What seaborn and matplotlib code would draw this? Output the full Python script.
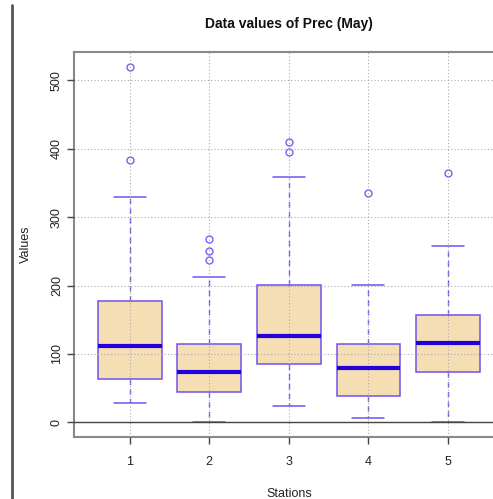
import matplotlib
matplotlib.use("Agg")
import matplotlib.pyplot as plt
from matplotlib.lines import Line2D
import seaborn as sns
import pandas as pd

# ---- data (box statistics per station) ----
stations = ["1", "2", "3", "4", "5"]
lower_whisker = [29, 0, 24, 7, 0]
q1 = [63, 44, 85, 38.5, 73]
median = [112, 73.5, 126.5, 79, 116.5]
q3 = [178, 114.5, 201.5, 114.5, 156.5]
upper_whisker = [330, 212, 358, 201.5, 257.5]
outliers = [[384, 520], [238, 250, 268], [396, 410], [335], [364]]

# table for seaborn: samples whose quartiles/whiskers equal the statistics above
rows = []
for s, lo, a, m, b, hi, outs in zip(stations, lower_whisker, q1, median, q3,
                                    upper_whisker, outliers):
    k = len(outs)
    vals = [lo] * (1 + k) + [a] * 10 + [m] * 11 + [b] * 10 + [hi] + list(outs)
    rows += [(s, v) for v in vals]
df = pd.DataFrame(rows, columns=["Station", "Value"])

sns.set_style("white")
plt.rcParams["font.family"] = ["Liberation Sans", "DejaVu Sans"]

fig = plt.figure(figsize=(4.93, 4.99), dpi=100)
ax = fig.add_axes([74 / 493, 62.3 / 499, 429.6 / 493, 384.7 / 499])

edge = "#7052EE"
sns.boxplot(
    data=df, x="Station", y="Value", ax=ax, order=stations,
    color="#F5DEB3", saturation=1, linecolor=edge, width=0.8, whis=1.5,
    linewidth=1.1,
    boxprops=dict(facecolor="#F5DEB3", edgecolor=edge, linewidth=1.1, zorder=2),
    medianprops=dict(color="#2200DD", linewidth=3, zorder=3),
    whiskerprops=dict(color=edge, linestyle=(0, (4, 3)), linewidth=1),
    capprops=dict(color=edge, linewidth=1.1),
    capwidths=0.4,
    flierprops=dict(marker="o", markerfacecolor="none", markeredgecolor="#7a5cf2",
                    markersize=5, markeredgewidth=1),
)

ax.set_xlim(-0.7, 4.7)
ax.set_ylim(-21, 541.5)
ax.set_yticks([0, 100, 200, 300, 400, 500])
ax.set_yticklabels(["0", "100", "200", "300", "400", "500"], rotation=90,
                   va="center", fontsize=9, color="#222222")
ax.set_xticks(range(len(stations)))
ax.set_xticklabels(stations, fontsize=9, color="#222222")
ax.tick_params(axis="both", direction="out", length=5, width=1, color="#444444",
               left=True, bottom=True)
ax.tick_params(axis="x", pad=9)
ax.tick_params(axis="y", pad=3)

ax.set_axisbelow(False)
ax.grid(True, linestyle=(0, (1, 2)), color="#AAAAAA", linewidth=0.8)
ax.axhline(0, color="#444444", linewidth=1, zorder=4)

for side in ["left", "top", "bottom"]:
    ax.spines[side].set_color("#888888")
    ax.spines[side].set_linewidth(1.5)
ax.spines["right"].set_visible(False)

ax.set_xlabel("Stations", fontsize=9, color="#222222", labelpad=14)
ax.set_ylabel("Values", fontsize=9, color="#222222", labelpad=14)
ax.set_title("Data values of Prec (May)", fontsize=10, fontweight="bold",
             color="#111111", pad=17, x=(289 - 74) / 429.6)

fig.add_artist(Line2D([12 / 493, 12 / 493], [0, 494 / 499], color="#555555",
                      linewidth=2))

fig.savefig("out.png", dpi=100)
